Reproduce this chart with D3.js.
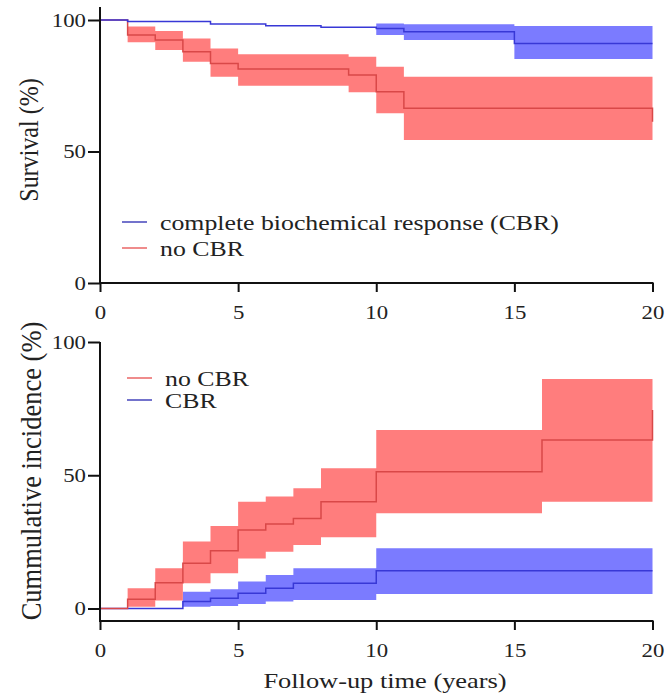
<!DOCTYPE html>
<html>
<head>
<meta charset="utf-8">
<script src="https://cdn.jsdelivr.net/npm/d3@7"></script>
<style>
  html, body { margin: 0; padding: 0; background: #fff; }
  svg { display: block; }
</style>
</head>
<body>
<div class="chart"></div>
<script>
// follow-up years of each step
var xTicks = [0, 5, 10, 15, 20];
var yTicks = [0, 50, 100];

// top panel : survival (%)
var survCbrTime = [0, 1, 4, 6, 8, 10, 11, 15, 20];
var survCbr     = [100, 99.4, 98.5, 97.8, 97.2, 96.8, 95.5, 91.1, 91.1];
var survCbrLow  = [null, null, null, null, null, 94.3, 92.4, 85.2, 85.2];
var survCbrHigh = [null, null, null, null, null, 98.7, 98.4, 97.7, 97.7];

var survNoTime = [0, 1, 2, 3, 4, 5, 9, 10, 11, 20];
var survNo     = [100, 94.3, 92.4, 87.9, 83.5, 81.4, 79.1, 72.7, 66.4, 61.3];
var survNoLow  = [100, 91.5, 88.6, 84.1, 78.4, 75.0, 72.5, 64.5, 54.4, 54.4];
var survNoHigh = [100, 97.5, 95.8, 93.0, 89.2, 87.0, 86.0, 82.2, 78.4, 78.4];

// bottom panel : cumulative incidence (%)
var cumNoTime = [0, 1, 2, 3, 4, 5, 6, 7, 8, 10, 16, 20];
var cumNo     = [0, 3.5, 9.7, 17.0, 21.7, 29.5, 31.7, 33.8, 40.1, 51.3, 63.2, 74.5];
var cumNoLow  = [0, 0.7, 3.0, 9.5, 13.2, 18.8, 21.3, 23.8, 26.7, 35.7, 40.1, 40.1];
var cumNoHigh = [0, 7.6, 15.1, 25.1, 31.0, 40.1, 42.0, 45.1, 52.6, 67.0, 86.1, 86.1];

var cumCbrTime = [0, 3, 4, 5, 6, 7, 10, 20];
var cumCbr     = [0, 2.6, 3.8, 5.7, 7.6, 9.5, 14.2, 14.2];
var cumCbrLow  = [0, 0.7, 0.9, 1.7, 2.6, 3.2, 5.4, 5.4];
var cumCbrHigh = [0, 6.3, 7.2, 10.1, 12.6, 15.1, 22.6, 22.6];

var topLegend = ["complete biochemical response (CBR)", "no CBR"];
var bottomLegend = ["no CBR", "CBR"];

var w = 667, h = 699;
var red = {band: "#ff7d7d", line: "#d94848", key: "#ef8c8c"};
var blue = {band: "#7b7bff", line: "#3838d6", key: "#7373cc"};
var font = "Liberation Serif, Tinos, Times New Roman, Times, Nimbus Roman, DejaVu Serif, serif";
var stretch = 1.2; // the picture is wider than tall

var svg = d3.select(".chart").append("svg")
    .attr("width", w)
    .attr("height", h);

var x = d3.scaleLinear().domain([0, 20]).range([100, 652.5]);
var yTop = d3.scaleLinear().domain([0, 100]).range([283, 20]);
var yBot = d3.scaleLinear().domain([0, 100]).range([608.5, 342]);

function rows(t, v, lo, hi) {
    return t.map(function(d, i) {
        return {t: d, v: v[i], lo: lo[i], hi: hi[i]};
    });
}

function drawSeries(y, data, col) {
    var area = d3.area()
        .curve(d3.curveStepAfter)
        .defined(function(d) { return d.lo != null; })
        .x(function(d) { return x(d.t); })
        .y0(function(d) { return y(d.lo); })
        .y1(function(d) { return y(d.hi); });
    svg.append("path").datum(data)
        .attr("d", area)
        .attr("fill", col.band);
    var line = d3.line()
        .curve(d3.curveStepAfter)
        .x(function(d) { return x(d.t); })
        .y(function(d) { return y(d.v); });
    svg.append("path").datum(data)
        .attr("d", line)
        .attr("fill", "none")
        .attr("stroke", col.line)
        .attr("stroke-width", 1.5);
}

function stretchText(sel) {
    sel.each(function() {
        var t = d3.select(this);
        var tx = +t.attr("x") || 0;
        var ty = +t.attr("y") || 0;
        t.attr("x", 0).attr("y", 0)
         .attr("transform", "translate(" + tx + "," + ty + ") scale(" + stretch + ",1)");
    });
}

function drawAxes(y, axisY, yAxisTop) {
    var gx = svg.append("g")
        .attr("transform", "translate(0," + axisY + ")")
        .call(d3.axisBottom(x).tickValues(xTicks).tickSize(9).tickSizeOuter(0).tickPadding(14));
    var gy = svg.append("g")
        .attr("transform", "translate(" + x(0) + ",0)")
        .call(d3.axisLeft(y).tickValues(yTicks).tickSize(12).tickSizeOuter(0).tickPadding(2));
    [gx, gy].forEach(function(g) {
        g.select(".domain").remove();
        g.attr("font-family", null).attr("font-size", null);
        g.selectAll("line").attr("stroke", "#111").attr("stroke-width", 2);
        g.selectAll("text")
            .attr("fill", "#222")
            .attr("font-family", font)
            .attr("font-size", 19)
            .call(stretchText);
    });
    svg.append("line")
        .attr("x1", x(0) - 1).attr("x2", x(20) + 1)
        .attr("y1", axisY).attr("y2", axisY)
        .attr("stroke", "#111").attr("stroke-width", 2);
    svg.append("line")
        .attr("x1", x(0)).attr("x2", x(0))
        .attr("y1", yAxisTop).attr("y2", axisY + 1)
        .attr("stroke", "#111").attr("stroke-width", 2);
}

function drawLegend(labels, cols, lx, ly, gap) {
    labels.forEach(function(lab, i) {
        var yy = ly + i * gap;
        svg.append("line")
            .attr("x1", lx).attr("x2", lx + 25)
            .attr("y1", yy).attr("y2", yy)
            .attr("stroke", cols[i].key).attr("stroke-width", 2);
        svg.append("text")
            .attr("x", lx + 38).attr("y", yy + 8)
            .text(lab)
            .attr("fill", "#222")
            .attr("font-family", font)
            .attr("font-size", 21.5)
            .call(stretchText);
    });
}

function yLabel(txt, cx, cy, size) {
    svg.append("text")
        .attr("transform", "translate(" + cx + "," + cy + ") scale(1.1,1) rotate(-90)")
        .attr("text-anchor", "middle")
        .attr("dy", "0.35em")
        .text(txt)
        .attr("fill", "#222")
        .attr("font-family", font)
        .attr("font-size", size);
}

// top panel
drawSeries(yTop, rows(survNoTime, survNo, survNoLow, survNoHigh), red);
drawSeries(yTop, rows(survCbrTime, survCbr, survCbrLow, survCbrHigh), blue);
drawAxes(yTop, yTop(0), 7);
drawLegend(topLegend, [blue, red], 122, 222, 26);
yLabel("Survival (%)", 29, 140, 24);

// bottom panel
drawSeries(yBot, rows(cumCbrTime, cumCbr, cumCbrLow, cumCbrHigh), blue);
drawSeries(yBot, rows(cumNoTime, cumNo, cumNoLow, cumNoHigh), red);
drawAxes(yBot, 621, yBot(100));
drawLegend(bottomLegend, [red, blue], 127, 378, 22);
yLabel("Cummulative incidence (%)", 31, 471, 26.5);

svg.append("text")
    .attr("x", 385).attr("y", 688)
    .attr("text-anchor", "middle")
    .text("Follow-up time (years)")
    .attr("fill", "#222")
    .attr("font-family", font)
    .attr("font-size", 22)
    .call(stretchText);
</script>
</body>
</html>
